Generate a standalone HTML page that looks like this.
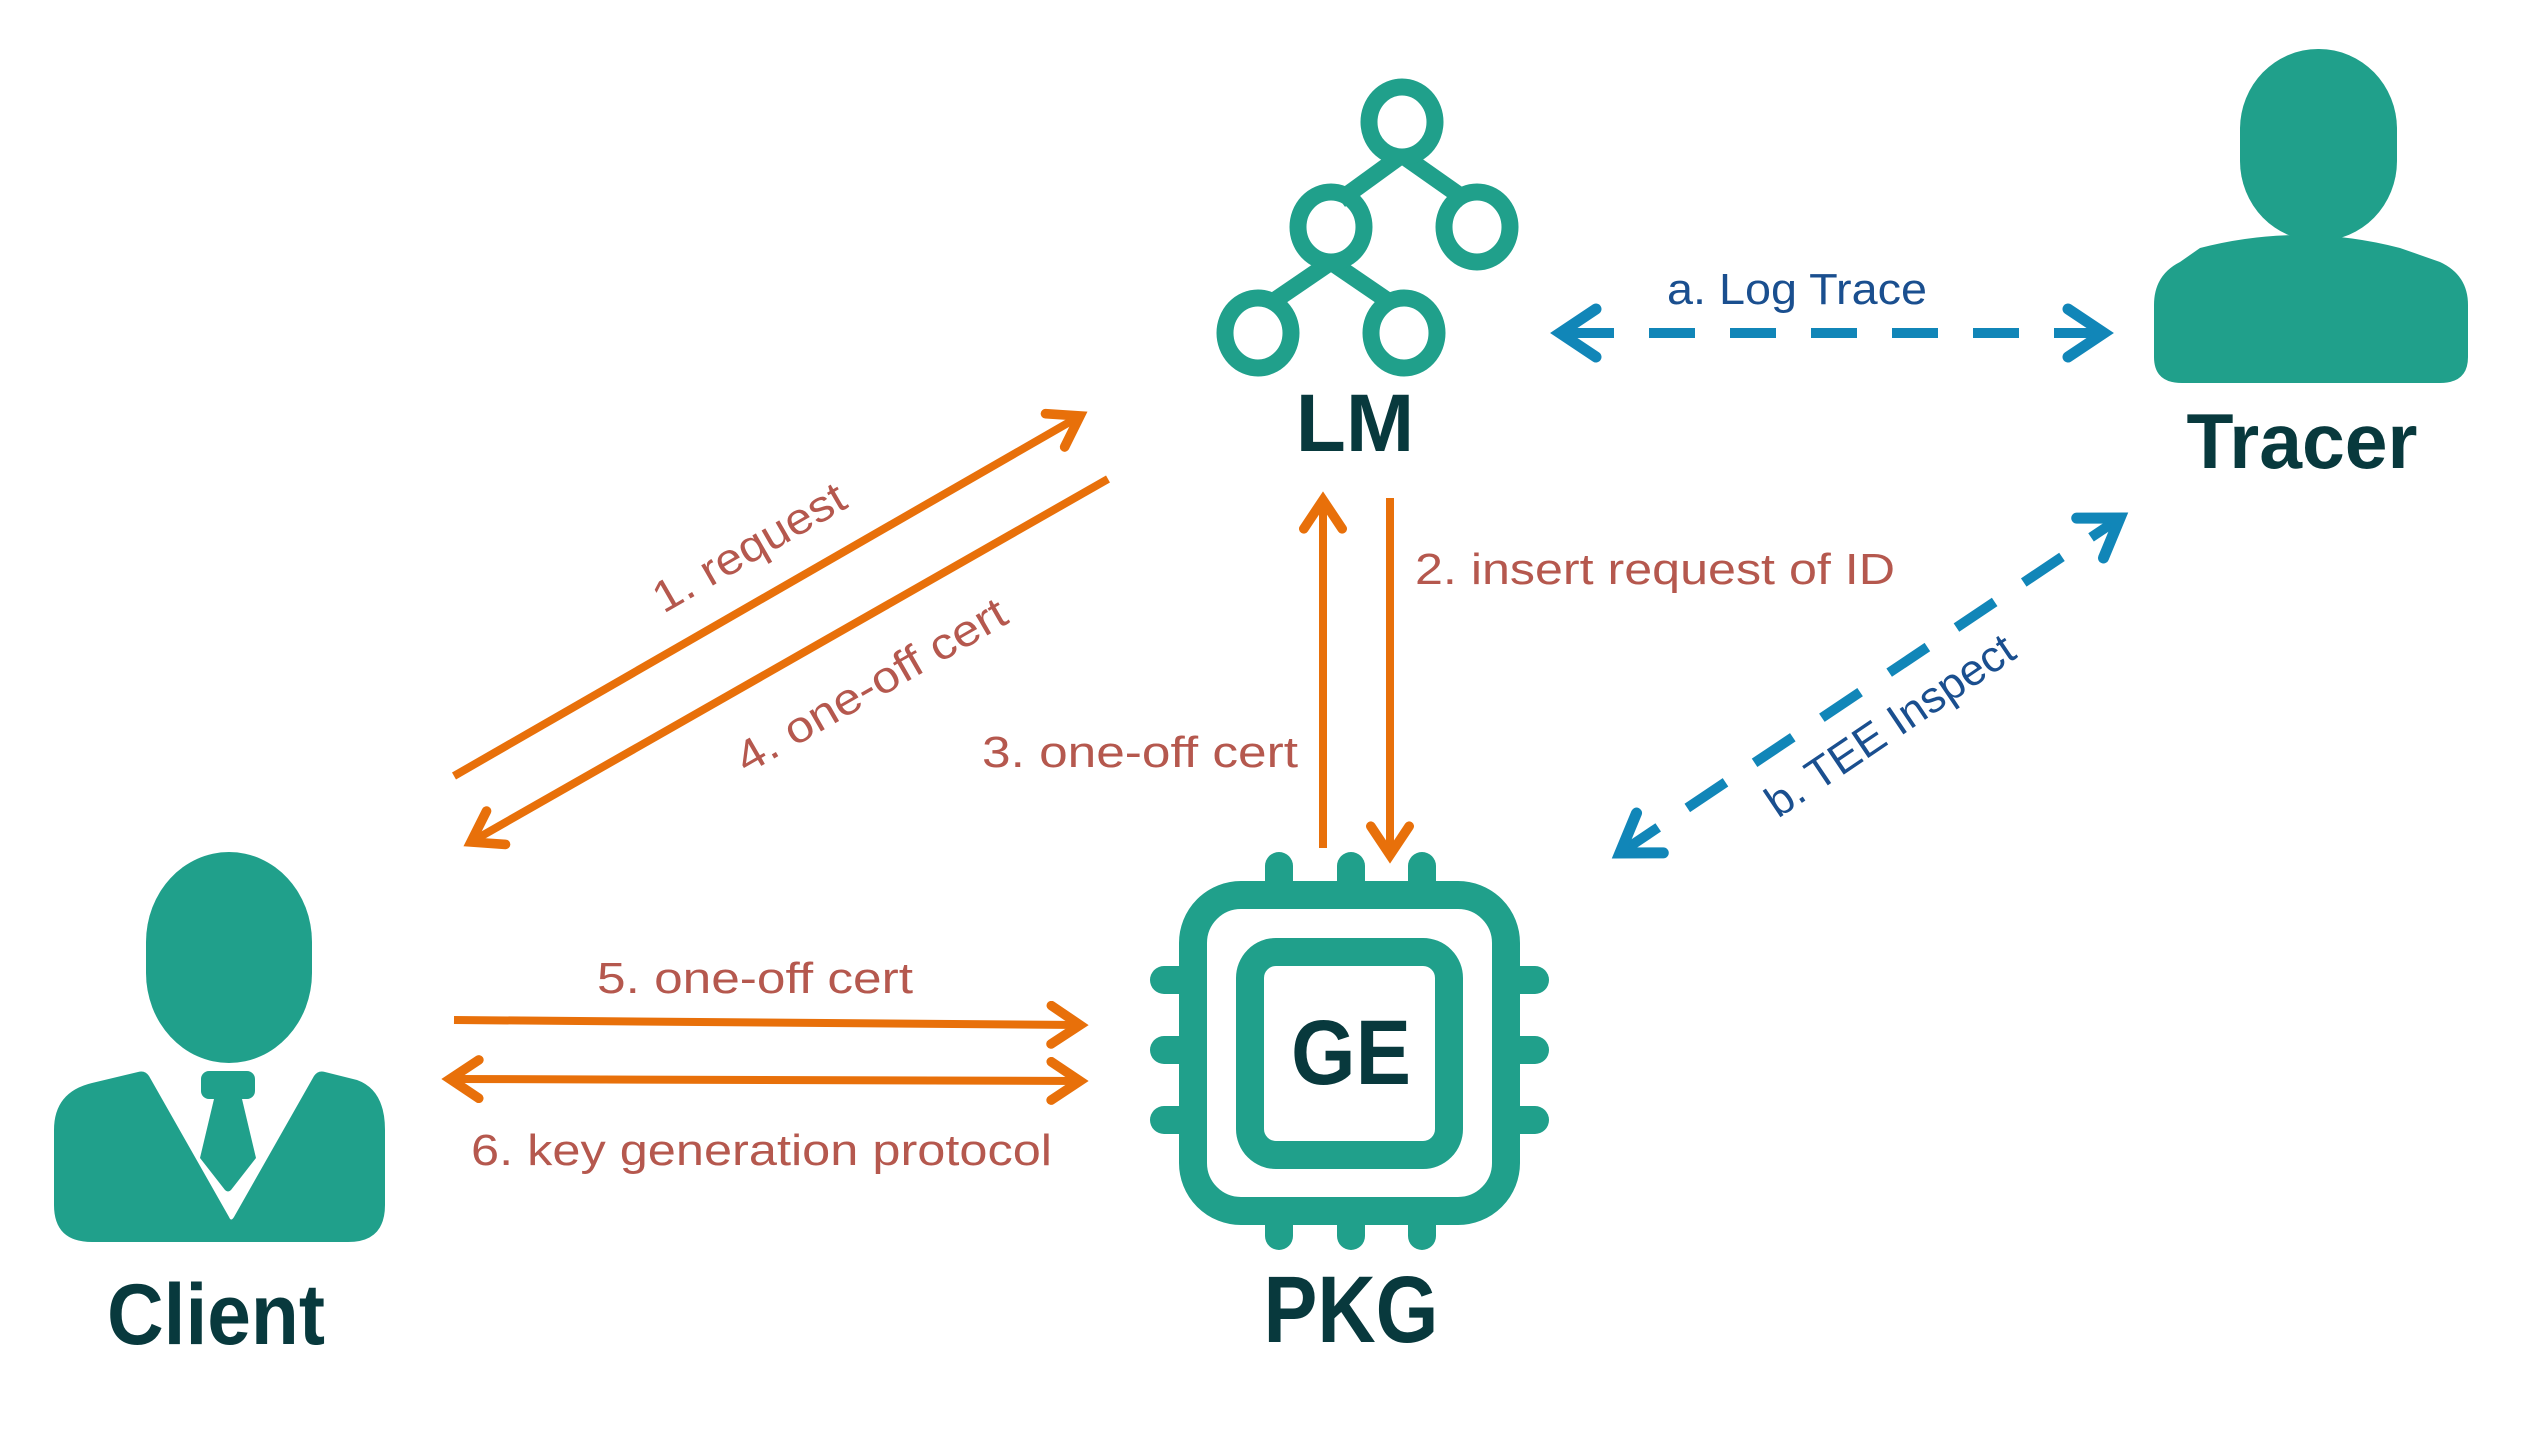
<!DOCTYPE html>
<html><head><meta charset="utf-8"><style>html,body{margin:0;padding:0;background:#fff;}svg{display:block}</style></head>
<body>
<svg width="2532" height="1431" viewBox="0 0 2532 1431" xmlns="http://www.w3.org/2000/svg" font-family="Liberation Sans, sans-serif">
<defs>
<marker id="oa" markerWidth="6" markerHeight="6" refX="4.6" refY="3" orient="auto" markerUnits="strokeWidth"><path d="M1,0.6 L4.6,3 L1,5.4" fill="none" stroke="#E8700A" stroke-width="1.2" stroke-linecap="round"/></marker>
<marker id="ba" markerWidth="6" markerHeight="6" refX="4.6" refY="3" orient="auto" markerUnits="strokeWidth"><path d="M1,0.6 L4.6,3 L1,5.4" fill="none" stroke="#1186B8" stroke-width="1.1" stroke-linecap="round"/></marker>
<marker id="bas" markerWidth="6" markerHeight="6" refX="1.4" refY="3" orient="auto" markerUnits="strokeWidth"><path d="M5,0.6 L1.4,3 L5,5.4" fill="none" stroke="#1186B8" stroke-width="1.1" stroke-linecap="round"/></marker>
<marker id="oas" markerWidth="6" markerHeight="6" refX="1.4" refY="3" orient="auto" markerUnits="strokeWidth"><path d="M5,0.6 L1.4,3 L5,5.4" fill="none" stroke="#E8700A" stroke-width="1.2" stroke-linecap="round"/></marker>
</defs>

<!-- LM tree -->
<g fill="none" stroke="#20A08B" stroke-width="17">
<line x1="1402" y1="155" x2="1340" y2="200"/>
<line x1="1402" y1="155" x2="1466" y2="200"/>
<line x1="1331" y1="262" x2="1268" y2="305"/>
<line x1="1331" y1="262" x2="1394" y2="305"/>
<ellipse cx="1402" cy="122" rx="33" ry="35"/>
<ellipse cx="1331" cy="227" rx="33" ry="35"/>
<ellipse cx="1477" cy="227" rx="33" ry="35"/>
<ellipse cx="1258" cy="333" rx="33" ry="35"/>
<ellipse cx="1404" cy="333" rx="33" ry="35"/>
</g>
<text x="1355" y="451" font-size="82" font-weight="bold" fill="#08393D" text-anchor="middle">LM</text>

<!-- Tracer -->
<g fill="#20A08B">
<rect x="2240" y="49" width="157" height="192" rx="78" ry="80"/>
<path d="M2200,248 Q2300,222 2400,248 L2440,262 Q2468,275 2468,305 L2468,357 Q2468,383 2440,383 L2182,383 Q2154,383 2154,357 L2154,305 Q2154,275 2180,262 Z"/>
</g>
<text x="2302" y="468" font-size="78" font-weight="bold" fill="#08393D" text-anchor="middle" textLength="231" lengthAdjust="spacingAndGlyphs">Tracer</text>

<!-- Client -->
<g fill="#20A08B">
<rect x="146" y="852" width="166" height="211" rx="83" ry="90"/>
<path d="M92,1083 L138,1072 Q145,1070 149,1076 L229,1217 Q231,1222 234,1217 L314,1076 Q318,1070 325,1072 L357,1080 Q385,1090 385,1130 L385,1205 Q385,1242 348,1242 L92,1242 Q54,1242 54,1205 L54,1130 Q54,1092 92,1083 Z"/>
<rect x="201" y="1071" width="54" height="28" rx="8"/>
<path d="M214,1099 L242,1099 L256,1158 L231,1190 Q228,1193 225,1190 L200,1158 Z"/>
</g>
<text x="216" y="1344" font-size="86" font-weight="bold" fill="#08393D" text-anchor="middle" textLength="218" lengthAdjust="spacingAndGlyphs">Client</text>

<!-- PKG chip -->
<g transform="translate(-6,0)">
<g fill="#20A08B">
<rect x="1271" y="852" width="28" height="44" rx="14"/>
<rect x="1343" y="852" width="28" height="44" rx="14"/>
<rect x="1414" y="852" width="28" height="44" rx="14"/>
<rect x="1271" y="1208" width="28" height="42" rx="14"/>
<rect x="1343" y="1208" width="28" height="42" rx="14"/>
<rect x="1414" y="1208" width="28" height="42" rx="14"/>
<rect x="1156" y="966" width="44" height="28" rx="14"/>
<rect x="1156" y="1036" width="44" height="28" rx="14"/>
<rect x="1156" y="1106" width="44" height="28" rx="14"/>
<rect x="1511" y="966" width="44" height="28" rx="14"/>
<rect x="1511" y="1036" width="44" height="28" rx="14"/>
<rect x="1511" y="1106" width="44" height="28" rx="14"/>
</g>
<rect x="1199" y="895" width="313" height="316" rx="48" fill="#fff" stroke="#20A08B" stroke-width="28"/>
<rect x="1256" y="952" width="199" height="203" rx="26" fill="#fff" stroke="#20A08B" stroke-width="28"/>
<text x="1357" y="1084" font-size="92" font-weight="bold" fill="#08393D" text-anchor="middle" textLength="120" lengthAdjust="spacingAndGlyphs">GE</text>
<text x="1357" y="1342" font-size="95" font-weight="bold" fill="#08393D" text-anchor="middle" textLength="175" lengthAdjust="spacingAndGlyphs">PKG</text>
</g>

<!-- orange arrows -->
<g stroke="#E8700A" stroke-width="8" fill="none">
<line x1="454" y1="776" x2="1080" y2="416" marker-end="url(#oa)"/>
<line x1="1108" y1="479" x2="471" y2="842" marker-end="url(#oa)"/>
<line x1="1323" y1="848" x2="1323" y2="500" marker-end="url(#oa)"/>
<line x1="1390" y1="498" x2="1390" y2="855" marker-end="url(#oa)"/>
<line x1="454" y1="1020" x2="1080" y2="1025" marker-end="url(#oa)"/>
<line x1="450" y1="1079" x2="1080" y2="1081" marker-start="url(#oas)" marker-end="url(#oa)"/>
</g>

<!-- blue dashed arrows -->
<g stroke="#1186B8" stroke-width="10" fill="none">
<line x1="1560" y1="333" x2="2104" y2="333" stroke-dasharray="46,35" stroke-dashoffset="-8" marker-start="url(#bas)" marker-end="url(#ba)"/>
<line x1="1620" y1="853" x2="2120" y2="518" stroke-dasharray="46,35" marker-start="url(#bas)" marker-end="url(#ba)"/>
</g>

<!-- labels -->
<g font-size="44" fill="#B5584E">
<text x="750" y="562" text-anchor="middle" transform="rotate(-30 750 549)" textLength="215" lengthAdjust="spacingAndGlyphs">1. request</text>
<text x="872" y="700" text-anchor="middle" transform="rotate(-30 872 687)" textLength="305" lengthAdjust="spacingAndGlyphs">4. one-off cert</text>
<text x="1415" y="584" textLength="480" lengthAdjust="spacingAndGlyphs">2. insert request of ID</text>
<text x="982" y="767" textLength="316" lengthAdjust="spacingAndGlyphs">3. one-off cert</text>
<text x="597" y="993" textLength="316" lengthAdjust="spacingAndGlyphs">5. one-off cert</text>
<text x="471" y="1165" textLength="581" lengthAdjust="spacingAndGlyphs">6. key generation protocol</text>
</g>
<g font-size="44" fill="#1A4F8F">
<text x="1667" y="304" textLength="260" lengthAdjust="spacingAndGlyphs">a. Log Trace</text>
<text x="1891" y="740" text-anchor="middle" transform="rotate(-34 1891 727)" textLength="290" lengthAdjust="spacingAndGlyphs">b. TEE Inspect</text>
</g>
</svg>
</body></html>
